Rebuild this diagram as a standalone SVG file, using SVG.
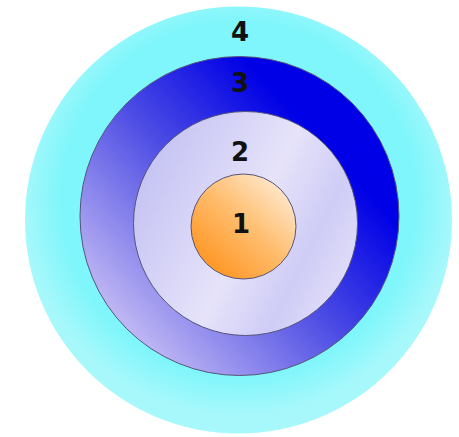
<svg xmlns="http://www.w3.org/2000/svg" width="459" height="437" viewBox="0 0 459 437">
<style>
.lbl{font-family:"DejaVu Sans","Liberation Sans",sans-serif;font-weight:bold;font-size:26px;fill:#111;text-anchor:middle}
.ring{stroke:#55557a;stroke-width:1}
</style>
<defs>
<radialGradient id="g4" cx="0.5" cy="0.45" r="0.55">
<stop offset="0.75" stop-color="#7ef6fb"/>
<stop offset="0.92" stop-color="#a6f8fb"/>
</radialGradient>
<linearGradient id="g3" x1="0.85" y1="0.2" x2="0.15" y2="0.85">
<stop offset="0.12" stop-color="#0000e6"/>
<stop offset="0.5" stop-color="#4a4ae4"/>
<stop offset="1" stop-color="#beb6f3"/>
</linearGradient>
<linearGradient id="g2" x1="0" y1="0.3" x2="1" y2="0.8">
<stop offset="0" stop-color="#c4c2f3"/>
<stop offset="0.5" stop-color="#e6e3fa"/>
<stop offset="0.75" stop-color="#cfccf6"/>
<stop offset="1" stop-color="#e4e1fa"/>
</linearGradient>
<linearGradient id="g1" x1="0.85" y1="0.15" x2="0.2" y2="0.85">
<stop offset="0" stop-color="#ffe4c4"/>
<stop offset="0.5" stop-color="#ffbc6c"/>
<stop offset="1" stop-color="#ff9a2c"/>
</linearGradient>
</defs>
<rect width="459" height="437" fill="#fff"/>
<g id="node4"><circle cx="238.5" cy="220" r="213.5" fill="url(#g4)"/><text class="lbl" x="240" y="41">4</text></g>
<g id="node3"><circle class="ring" cx="239.5" cy="216" r="159.5" fill="url(#g3)"/><text class="lbl" x="240" y="92">3</text></g>
<g id="node2"><circle class="ring" cx="245.5" cy="223.5" r="112" fill="url(#g2)"/><text class="lbl" x="240" y="161">2</text></g>
<g id="node1"><circle class="ring" cx="243.5" cy="226.5" r="52.5" fill="url(#g1)" stroke="#8a6a50"/><text class="lbl" x="241" y="233">1</text></g>
<g id="connectors"/>
</svg>
